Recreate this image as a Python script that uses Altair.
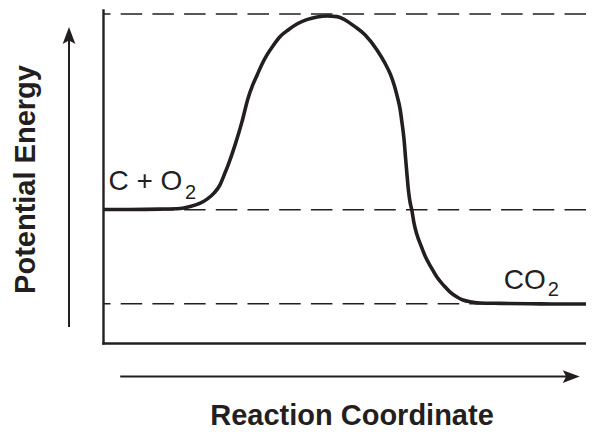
import altair as alt
import pandas as pd

INK = "#231f20"
FONT = "Liberation Sans"

# Energy profile (reaction coordinate 0-100, potential energy 0-100)
curve_x = [0, 5.5, 11.6, 15.7, 17.7, 19.8, 21.2, 22.6, 23.8, 24.6, 25.5, 26.9, 28.3,
           29.5, 30.5, 31.4, 32.4, 33.4, 34.6, 36.0, 37.7, 39.5, 41.5, 43.6, 45.6,
           47.7, 49.3, 51.3, 53.4, 55.8, 57.4, 58.5, 59.3, 59.9, 60.5, 60.9, 61.3,
           61.6, 61.9, 62.2, 62.5, 62.9, 63.3, 63.9, 64.8, 65.6, 66.8, 68.0, 69.5,
           70.7, 72.1, 73.3, 75.2, 76.8, 80.9, 87.0, 93.1, 100]
curve_y = [40.1, 40.1, 40.2, 40.4, 41.0, 42.0, 43.2, 45.0, 47.4, 50.2, 53.5, 59.5, 66.4,
           73.3, 77.5, 80.5, 83.8, 86.5, 89.2, 91.9, 94.0, 95.8, 97.1, 97.9, 98.2,
           98.0, 97.0, 95.0, 92.5, 88.0, 84.1, 80.8, 77.5, 74.2, 70.3, 66.1, 61.3,
           55.9, 50.8, 45.9, 42.6, 39.9, 36.3, 32.7, 29.1, 26.1, 22.8, 19.8, 17.1,
           15.3, 13.8, 12.9, 12.3, 12.0, 11.9, 11.8, 11.7, 11.7]

# Reference levels (dashed)
levels = [98.8, 40.0, 11.8]

# Labels: main text and subscripts
label_text = ["C + O", "2", "CO", "2"]
label_x = [1.1, 16.7, 81.6, 90.6]
label_y = [45.9, 43.2, 16.2, 14.1]
label_size = [28, 20, 28, 20]

# Arrows (data units along their own axis)
v_arrow_start, v_arrow_shaft_end, v_arrow_tip = 4.8, 91.9, 94.9
h_arrow_start, h_arrow_shaft_end, h_arrow_tip = 3.5, 95.1, 97.1

curve_df = pd.DataFrame({"x": curve_x, "y": curve_y})
level_df = pd.DataFrame({"y": levels})
label_df = pd.DataFrame({"text": label_text, "x": label_x, "y": label_y, "size": label_size})

xscale = alt.Scale(domain=[0, 98.37], nice=False, zero=False)
yscale = alt.Scale(domain=[0, 100], nice=False, zero=False)

xaxis = alt.Axis(domain=True, ticks=False, labels=False, grid=False,
                 domainColor=INK, domainWidth=2.4, domainCap="square",
                 title="Reaction Coordinate", titleFont=FONT, titleFontSize=29,
                 titleFontWeight="bold", titleColor=INK, titleX=248.5, titleY=81,
                 titleAlign="center", titleBaseline="alphabetic", titleAngle=0)
yaxis = alt.Axis(domain=True, ticks=False, labels=False, grid=False,
                 domainColor=INK, domainWidth=2.4, domainCap="square",
                 title="Potential Energy", titleFont=FONT, titleFontSize=29,
                 titleFontWeight="bold", titleColor=INK, titleX=-69, titleY=169,
                 titleAlign="center", titleBaseline="alphabetic", titleAngle=-90)

dashed = alt.Chart(level_df).mark_rule(
    color=INK, strokeWidth=1.5, strokeDash=[21.5, 10.2]
).encode(y=alt.Y("y:Q", scale=yscale, axis=yaxis))

curve = alt.Chart(curve_df).mark_line(
    color=INK, strokeWidth=3.6, interpolate="monotone"
).encode(
    x=alt.X("x:Q", scale=xscale, axis=xaxis),
    y=alt.Y("y:Q", scale=yscale, axis=yaxis),
)

labels = alt.Chart(label_df).mark_text(
    font=FONT, color=INK, align="left", baseline="alphabetic"
).encode(
    x=alt.X("x:Q", scale=xscale),
    y=alt.Y("y:Q", scale=yscale),
    text="text:N",
    size=alt.Size("size:Q", scale=None, legend=None),
)

v_df = pd.DataFrame({"y": [v_arrow_start], "y2": [v_arrow_shaft_end], "tip": [v_arrow_tip]})
h_df = pd.DataFrame({"x": [h_arrow_start], "x2": [h_arrow_shaft_end], "tip": [h_arrow_tip]})

v_shaft = alt.Chart(v_df).mark_rule(color=INK, strokeWidth=2).encode(
    x=alt.value(-34), y=alt.Y("y:Q", scale=yscale), y2="y2:Q")
v_head = alt.Chart(v_df).mark_point(
    shape="M0,0 L0.75,2 L0,1.6 L-0.75,2 Z", filled=True, color=INK, opacity=1, size=289
).encode(x=alt.value(-34), y=alt.Y("tip:Q", scale=yscale))

h_shaft = alt.Chart(h_df).mark_rule(color=INK, strokeWidth=2).encode(
    y=alt.value(366.5), x=alt.X("x:Q", scale=xscale), x2="x2:Q")
h_head = alt.Chart(h_df).mark_point(
    shape="M0,0 L-2,-0.75 L-1.6,0 L-2,0.75 Z", filled=True, color=INK, opacity=1, size=289
).encode(y=alt.value(366.5), x=alt.X("tip:Q", scale=xscale))

chart = alt.layer(dashed, curve, labels, v_shaft, v_head, h_shaft, h_head).properties(
    width=483, height=333,
    autosize=alt.AutoSizeParams(type="none"),
    padding={"left": 95, "top": 2, "right": 0, "bottom": 87},
    background="white",
).configure_view(stroke=None)

chart.save("out.html", embed_options={"renderer": "svg", "actions": False})
